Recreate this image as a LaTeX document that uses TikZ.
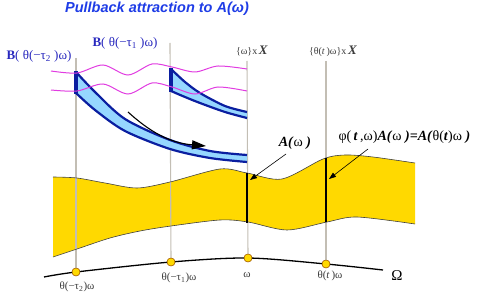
\documentclass[tikz,border=0pt]{standalone}
\usepackage{fontspec}
\setmainfont{Liberation Serif}
\newfontfamily\sansfnt{Liberation Sans}
\usetikzlibrary{arrows.meta}
\definecolor{gold}{RGB}{255,217,0}
\definecolor{dkblue}{RGB}{10,30,160}
\definecolor{ltblue}{RGB}{150,215,255}
\definecolor{mag}{RGB}{225,60,225}
\definecolor{vgray}{RGB}{195,190,180}
\definecolor{ttlblue}{RGB}{30,60,230}
\definecolor{lblblue}{RGB}{40,40,190}
\definecolor{txtgray}{RGB}{60,60,60}
\tikzset{
  vline/.style={draw=vgray, line width=1.1pt},
  bandedge/.style={draw=black!75, line width=0.6pt},
  bar/.style={draw=black, line width=2.6pt},
  bluecurve/.style={draw=dkblue, line width=2.2pt},
  bluebar/.style={draw=dkblue, line width=3.5pt},
  wave/.style={draw=mag, line width=1pt},
  dotnode/.style={circle, fill=gold, draw=orange!60!black, line width=0.4pt, minimum size=8pt, inner sep=0pt},
  botlab/.style={font=\fontsize{11}{12}\selectfont, text=txtgray},
  hdlab/.style={font=\fontsize{10}{12}\selectfont, text=txtgray},
  blab/.style={font=\fontsize{13}{14}\selectfont, text=lblblue},
  annarrow/.style={draw=black, line width=0.6pt, -{Triangle[length=7pt,width=5pt]}},
}
\newcommand{\bi}[1]{\textbf{\textit{#1}}}
\begin{document}
\begin{tikzpicture}[x=1pt,y=-1pt]
\useasboundingbox (0,0) rectangle (491,294);

% yellow band
\fill[gold] plot[smooth] coordinates {(53,177) (77,178) (105,183) (137,188) (170,182) (220,169) (247,173) (282,179) (323,159) (345,155) (373,157) (415,163)}
  -- plot[smooth] coordinates {(415,224) (357,217) (327,222) (287,230) (248,222) (220,220) (171,226) (140,231) (110,238) (77,249) (53,257)} -- cycle;

% vertical lines and dots
\coordinate (t1) at (76,58);
\coordinate (t2) at (170,43);
\coordinate (t3) at (247,61);
\coordinate (t4) at (326,61);
\node[dotnode] (d1) at (76,272) {};
\node[dotnode] (d2) at (171,262) {};
\node[dotnode] (d3) at (248,258) {};
\node[dotnode] (d4) at (326,264) {};
\coordinate (omL) at (44,277);
\coordinate (omR) at (383,270);
\draw[vline] (t1) -- (d1.center);
\draw[vline] (t2) -- (d2.center);
\draw[vline] (t3) -- (d3.center);
\draw[vline] (t4) -- (d4.center);

% band outlines
\draw[bandedge] plot[smooth] coordinates {(53,177) (77,178) (105,183) (137,188) (170,182) (220,169) (247,173) (282,179) (323,159) (345,155) (373,157) (415,163)};
\draw[bandedge] plot[smooth] coordinates {(415,224) (357,217) (327,222) (287,230) (248,222) (220,220) (171,226) (140,231) (110,238) (77,249) (53,257)};

% black bars
\coordinate (b3t) at (247,173);
\coordinate (b3b) at (247,223);
\coordinate (b4t) at (326,158);
\coordinate (b4b) at (326,222);
\draw[bar] (b3t) -- (b3b);
\draw[bar] (b4t) -- (b4b);

% Omega curve
\draw[black, line width=1.3pt] plot[smooth] coordinates {(omL) (d1.center) (d2.center) (d3.center) (d4.center) (omR)};
\node[dotnode] at (d1.center) {};
\node[dotnode] at (d2.center) {};
\node[dotnode] at (d3.center) {};
\node[dotnode] at (d4.center) {};

% left blue shape
\fill[ltblue] plot[smooth] coordinates {(76,72) (95,92) (125,119) (170,140) (210,151) (247,155)}
  -- plot[smooth] coordinates {(247,162) (210,158) (170,149) (125,131) (95,110) (76,93)} -- cycle;
\draw[bluecurve] plot[smooth] coordinates {(76,72) (95,92) (125,119) (170,140) (210,151) (247,155)};
\draw[bluecurve] plot[smooth] coordinates {(76,93) (95,110) (125,131) (170,149) (210,158) (247,162)};
\draw[bluebar] (76,71) -- (76,94);

% right blue shape
\fill[ltblue] plot[smooth] coordinates {(171,69) (185,82) (200,93) (225,106) (247,112)}
  -- plot[smooth] coordinates {(247,118) (225,112) (200,103) (185,97) (171,91)} -- cycle;
\draw[bluecurve] plot[smooth] coordinates {(171,69) (185,82) (200,93) (225,106) (247,112)};
\draw[bluecurve] plot[smooth] coordinates {(171,91) (185,97) (200,103) (225,112) (247,118)};
\draw[bluebar] (171,68) -- (171,92);

% waves
\draw[wave] plot[smooth] coordinates {(51,71) (77,73) (103,65) (128,75) (152,64) (172,67) (195,72) (218,66) (247,69)};
\draw[wave] plot[smooth] coordinates {(51,90) (77,91) (103,84) (128,94) (152,83) (172,87) (195,94) (218,87) (247,91)};

% big curved arrow
\coordinate (ca1) at (128,112);
\coordinate (ca2) at (206,146);
\draw[black, line width=1.1pt, -{Triangle[length=14pt,width=9pt]}] (ca1) .. controls (150,132) and (170,143) .. (ca2);

% annotation arrows
\node[font=\fontsize{14}{15}\selectfont] (alab) at (295,143) {\bi{A(}ω \bi{)}};
\node[font=\fontsize{14}{15}\selectfont, anchor=west] (plab) at (335,137) {φ(\,\bi{t}\,,ω)\bi{A(}ω \bi{)=A(}θ(\bi{t})ω \bi{)}};
\coordinate (ae1) at (250,180);
\coordinate (ae2) at (329,179);
\coordinate (as1) at (286,154);
\coordinate (as2) at (368,149);
\draw[annarrow] (as1) -- (ae1);
\draw[annarrow] (as2) -- (ae2);

% texts
\node[font=\sansfnt\bfseries\itshape\fontsize{14.5}{16}\selectfont, text=ttlblue] (title) at (157,9) {Pullback attraction to A(ω)};
\node[blab] (bl2) at (39,56) {\textbf{B}( θ(−τ\textsubscript{2} )ω)};
\node[blab] (bl1) at (125,43) {\textbf{B}( θ(−τ\textsubscript{1} )ω)};
\node[hdlab] (h3) at (252,51) {\{ω\}x\,{\fontsize{13}{14}\selectfont\bi{X}}};
\node[hdlab] (h4) at (333,51) {\{θ(\textit{t}\,)ω\}x\,{\fontsize{13}{14}\selectfont\bi{X}}};
\node[botlab] (l1) at (77,287) {θ(−τ\textsubscript{2})ω};
\node[botlab] (l2) at (179,278) {θ(−τ\textsubscript{1})ω};
\node[botlab] (l3) at (247,275) {ω};
\node[botlab] (l4) at (330,276) {θ(\textit{t}\,)ω};
\node[font=\fontsize{15}{16}\selectfont] (om) at (397,276) {Ω};
\end{tikzpicture}
\end{document}
